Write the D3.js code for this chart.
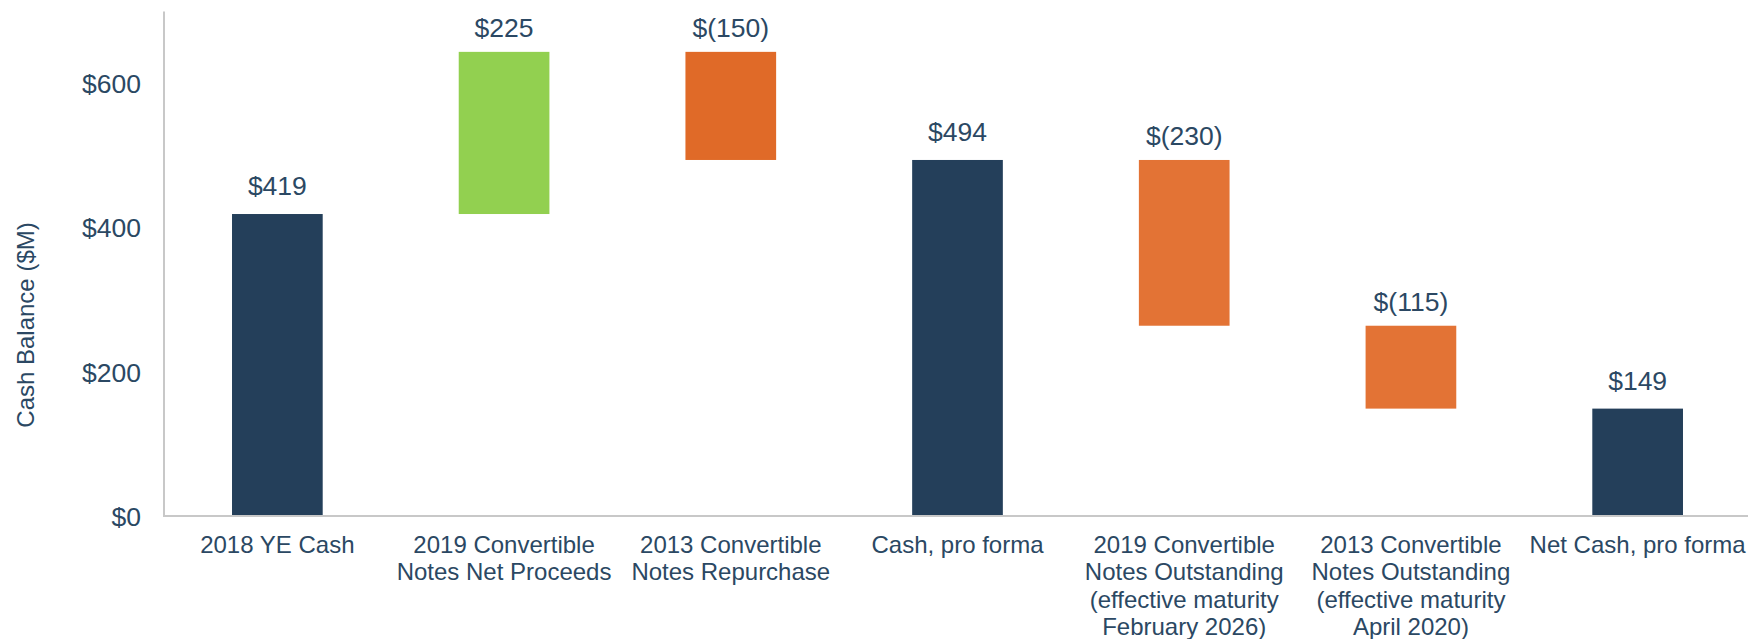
<!DOCTYPE html>
<html>
<head>
<meta charset="utf-8">
<script src="https://cdn.jsdelivr.net/npm/d3@7"></script>
<style>
  html, body { margin: 0; padding: 0; background: #ffffff; }
  svg { display: block; font-family: "Liberation Sans", Arial, Helvetica, sans-serif; }
</style>
</head>
<body>
<svg id="chart" width="1748" height="639"></svg>
<script>
// Cash bridge: starting balance, movements, pro forma totals ($M)
const categories = [
  ["2018 YE Cash"],
  ["2019 Convertible", "Notes Net Proceeds"],
  ["2013 Convertible", "Notes Repurchase"],
  ["Cash, pro forma"],
  ["2019 Convertible", "Notes Outstanding", "(effective maturity", "February 2026)"],
  ["2013 Convertible", "Notes Outstanding", "(effective maturity", "April 2020)"],
  ["Net Cash, pro forma"]
];
const changes = [419, 225, -150, null, -230, -115, null];   // null = running total bar
const kinds   = ["total", "increase", "decrease", "total", "decrease", "decrease", "total"];
const valueLabels = ["$419", "$225", "$(150)", "$494", "$(230)", "$(115)", "$149"];
const yTicks = [0, 200, 400, 600];
const yTickLabels = ["$0", "$200", "$400", "$600"];

const colors = {
  total: "#243f5a",
  increase: "#92d050",
  decrease: ["#e06a28", "#e37335", "#e37335"]
};
const textColor = "#2b4863";

// Build running-total segments
let running = 0;
let decIdx = 0;
const bars = changes.map((c, i) => {
  let y0, y1, fill;
  if (kinds[i] === "total") {
    if (c !== null) running = c;
    y0 = 0; y1 = running; fill = colors.total;
  } else {
    y0 = running; running += c; y1 = running;
    fill = kinds[i] === "increase" ? colors.increase : colors.decrease[decIdx++];
  }
  return { i, lo: Math.min(y0, y1), hi: Math.max(y0, y1), fill, label: valueLabels[i], kind: kinds[i] };
});

const svg = d3.select("#chart");
const x0 = 164, x1 = 1751, yBase = 516, yTop = 11.5;

const x = d3.scaleBand()
  .domain(d3.range(categories.length))
  .range([x0, x1])
  .paddingInner(0.6)
  .paddingOuter(0.3);

const y = d3.scaleLinear().domain([0, 700]).range([yBase, yTop]);

// Bars
svg.append("g").selectAll("rect")
  .data(bars)
  .join("rect")
  .attr("x", d => x(d.i))
  .attr("width", x.bandwidth())
  .attr("y", d => y(d.hi))
  .attr("height", d => y(d.lo) - y(d.hi))
  .attr("fill", d => d.fill);

// Value labels above each bar
svg.append("g").selectAll("text")
  .data(bars)
  .join("text")
  .attr("x", d => x(d.i) + x.bandwidth() / 2)
  .attr("y", d => y(d.hi) - (d.kind === "total" ? 19 : 15))
  .attr("text-anchor", "middle")
  .attr("font-size", 26.5)
  .attr("fill", textColor)
  .text(d => d.label);

// Y axis
const yAxis = svg.append("g")
  .attr("transform", `translate(${x0},0)`)
  .call(d3.axisLeft(y).tickValues(yTicks).tickSize(0).tickPadding(23)
    .tickFormat((d, k) => yTickLabels[k]));
yAxis.select(".domain").remove();
yAxis.selectAll("text")
  .attr("font-size", 26.5)
  .attr("font-family", "\"Liberation Sans\", Arial, sans-serif")
  .attr("fill", textColor)
  .attr("dy", "0.35em");

// Axis lines
svg.append("line")
  .attr("x1", x0).attr("x2", x0)
  .attr("y1", yTop).attr("y2", yBase)
  .attr("stroke", "#c8c8c8").attr("stroke-width", 2);
svg.append("line")
  .attr("x1", x0 - 1).attr("x2", 1748)
  .attr("y1", yBase).attr("y2", yBase)
  .attr("stroke", "#c8c8c8").attr("stroke-width", 2);

// Category labels
const cat = svg.append("g").selectAll("text")
  .data(categories)
  .join("text")
  .attr("x", (d, i) => x(i) + x.bandwidth() / 2)
  .attr("y", 553)
  .attr("text-anchor", "middle")
  .attr("font-size", 24)
  .attr("fill", textColor);
cat.selectAll("tspan")
  .data(d => d)
  .join("tspan")
  .attr("x", function () { return d3.select(this.parentNode).attr("x"); })
  .attr("dy", (d, k) => k === 0 ? 0 : 27.4)
  .text(d => d);

// Y axis title
svg.append("text")
  .attr("transform", "translate(34,325) rotate(-90)")
  .attr("text-anchor", "middle")
  .attr("font-size", 24)
  .attr("fill", textColor)
  .text("Cash Balance ($M)");
</script>
</body>
</html>
